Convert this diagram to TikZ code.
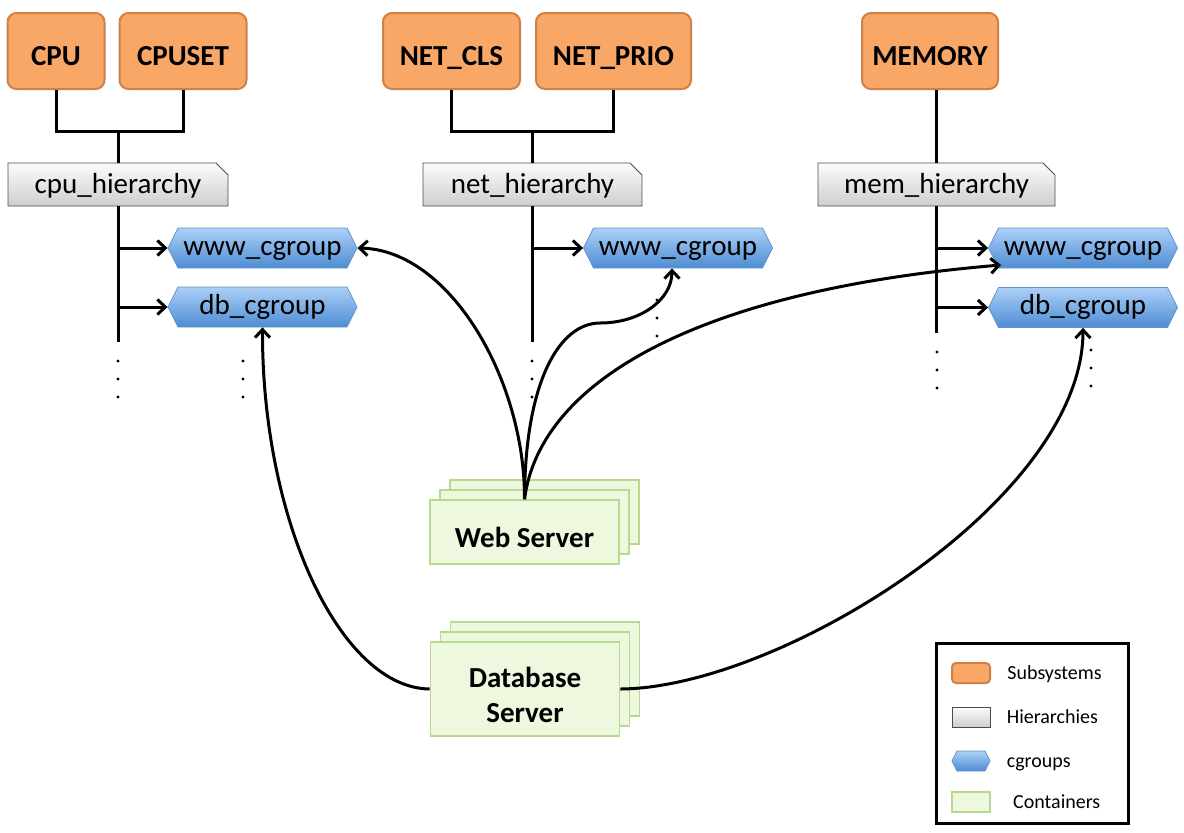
\documentclass[tikz,border=0pt]{standalone}
\usepackage{fontspec}
\setmainfont{Carlito}
\usepackage{xcolor}
\usepackage{tikz}
\usetikzlibrary{positioning,arrows.meta,shapes.misc,shapes.symbols,shadows}

\definecolor{subfill}{RGB}{249,167,102}
\definecolor{subline}{RGB}{206,128,70}
\definecolor{hiertop}{RGB}{252,252,252}
\definecolor{hierbot}{RGB}{206,206,206}
\definecolor{cgtop}{RGB}{172,208,247}
\definecolor{cgbot}{RGB}{78,140,211}
\definecolor{cgline}{RGB}{98,148,204}
\definecolor{ctfill}{RGB}{238,248,222}
\definecolor{ctline}{RGB}{184,217,144}

\begin{document}
\begin{tikzpicture}[
  x=0.5pt, y=-0.5pt,
  font=\fontsize{14.5}{17.5}\selectfont,
  subsys/.style={draw=subline, fill=subfill, line width=1pt, rounded corners=4.5pt, font=\fontsize{14.5}{17.5}\selectfont\bfseries, minimum height=38pt, inner sep=0pt, text height=14pt, text depth=0pt},
  hier/.style={chamfered rectangle, chamfered rectangle corners=north east, chamfered rectangle xsep=3pt, chamfered rectangle ysep=3pt, draw=black!70, top color=hiertop, bottom color=hierbot, minimum height=21.5pt, inner sep=0pt, text height=10.5pt, text depth=2pt},
  cgrp/.style={signal, signal to=east and west, signal pointer angle=127, draw=cgline, top color=cgtop, bottom color=cgbot, minimum width=94.5pt, minimum height=20pt, inner sep=0pt, text height=10pt, text depth=3pt},
  cont/.style={draw=ctline, fill=ctfill, line width=0.8pt, font=\fontsize{14.5}{17.5}\selectfont\bfseries, align=center, inner sep=0pt},
  stack/.style={cont, minimum width=94.5pt, double copy shadow={shadow xshift=5pt, shadow yshift=5pt}},
  wire/.style={line width=1.5pt},
  arr/.style={-{Straight Barb[length=4pt,width=7.5pt]}, line width=1.5pt},
  swatch/.style={minimum width=19pt, minimum height=10pt, text height=0pt, text depth=0pt},
  keytext/.style={font=\fontsize{10}{12}\selectfont, inner sep=0pt, text height=7.5pt, text depth=1pt}
]
\useasboundingbox (0,0) rectangle (1184,832);
% subsystems
\node[subsys, minimum width=48.5pt] (cpu) at (56,51) {CPU};
\node[subsys, minimum width=63.5pt] (cpuset) at (183,51) {CPUSET};
\node[subsys, minimum width=68.5pt] (netcls) at (451.5,51) {NET\_CLS};
\node[subsys, minimum width=77.5pt] (netprio) at (613.5,51) {NET\_PRIO};
\node[subsys, minimum width=68pt] (memory) at (930,51) {MEMORY};
% hierarchies
\node[hier, minimum width=110pt] (cpuh) at (118,184.5) {cpu\_hierarchy};
\node[hier, minimum width=109.5pt] (neth) at (532.5,184.5) {net\_hierarchy};
\node[hier, minimum width=118.5pt] (memh) at (936.5,184.5) {mem\_hierarchy};
% cgroups
\node[cgrp] (cpuwww) at (262.5,248) {www\_cgroup};
\node[cgrp] (cpudb) at (262.5,307) {db\_cgroup};
\node[cgrp] (netwww) at (678,248) {www\_cgroup};
\node[cgrp] (memwww) at (1083,248) {www\_cgroup};
\node[cgrp] (memdb) at (1083,307.5) {db\_cgroup};
% containers
\node[stack, minimum height=32pt] (web) at (524.5,532) {\rule{0pt}{15.5pt}Web Server};
\node[stack, minimum height=47pt] (db) at (525,689) {\rule{0pt}{16.5pt}Database\\Server};
% subsystems into hierarchies
\draw[wire] (cpu.south) -- ++(0,41) -| (cpuset.south);
\draw[wire] (cpuh.north) -- ++(0,-33);
\draw[wire] (netcls.south) -- ++(0,41) -| (netprio.south);
\draw[wire] (neth.north) -- ++(0,-33);
\draw[wire] (memh.north) -- (memh.north |- memory.south);
\draw[wire] (cpuh.south) -- ++(0,136);
\draw[wire] (neth.south) -- ++(0,136);
\draw[wire] (memh.south) -- ++(0,127);
\foreach \h/\c in {cpuh/cpuwww, cpuh/cpudb, neth/netwww, memh/memwww, memh/memdb}{\draw[arr] (\h.south |- \c.west) -- (\c.west);}
% more of the same
\foreach \x/\y in {118/361, 118/379, 118/397, 243/361, 243/379, 243/397, 532/361, 532/379, 532/397, 657/300, 657/318, 657/336, 937/352, 937/370, 937/388, 1091/350, 1091/368, 1091/386}{\fill (\x,\y) circle (0.8pt);}
% containers attach to cgroups
\draw[arr] (web.north) .. controls (525,380) and (450,250) .. (cpuwww.east);
\draw[arr] (web.north) .. controls (525,380) and (560,323) .. (600,323) .. controls (640,323) and (672,300) .. ([xshift=-3pt]netwww.south);
\draw[arr] (web.north) .. controls (540,380) and (700,290) .. ([shift={(13,17)}]memwww.west);
\draw[arr] (db.west) .. controls (340,688) and (262,520) .. (cpudb.south);
\draw[arr] (db.east) .. controls (780,688) and (1083,500) .. (memdb.south);
% legend
\node[draw, line width=1.5pt, minimum width=96pt, minimum height=90pt] (legend) at (1032,733) {};
\node[subsys, swatch, rounded corners=2pt] (ksub) at (971,673) {};
\node[keytext, right=8pt of ksub] {Subsystems};
\node[hier, swatch, chamfered rectangle xsep=2pt, chamfered rectangle ysep=2pt] (khier) at (971,717) {};
\node[keytext, right=8pt of khier] {Hierarchies};
\node[cgrp, swatch] (kcg) at (971,761) {};
\node[keytext, right=8pt of kcg] {cgroups};
\node[cont, swatch] (kcont) at (971,802) {};
\node[keytext, right=11pt of kcont] {Containers};
\end{tikzpicture}
\end{document}
